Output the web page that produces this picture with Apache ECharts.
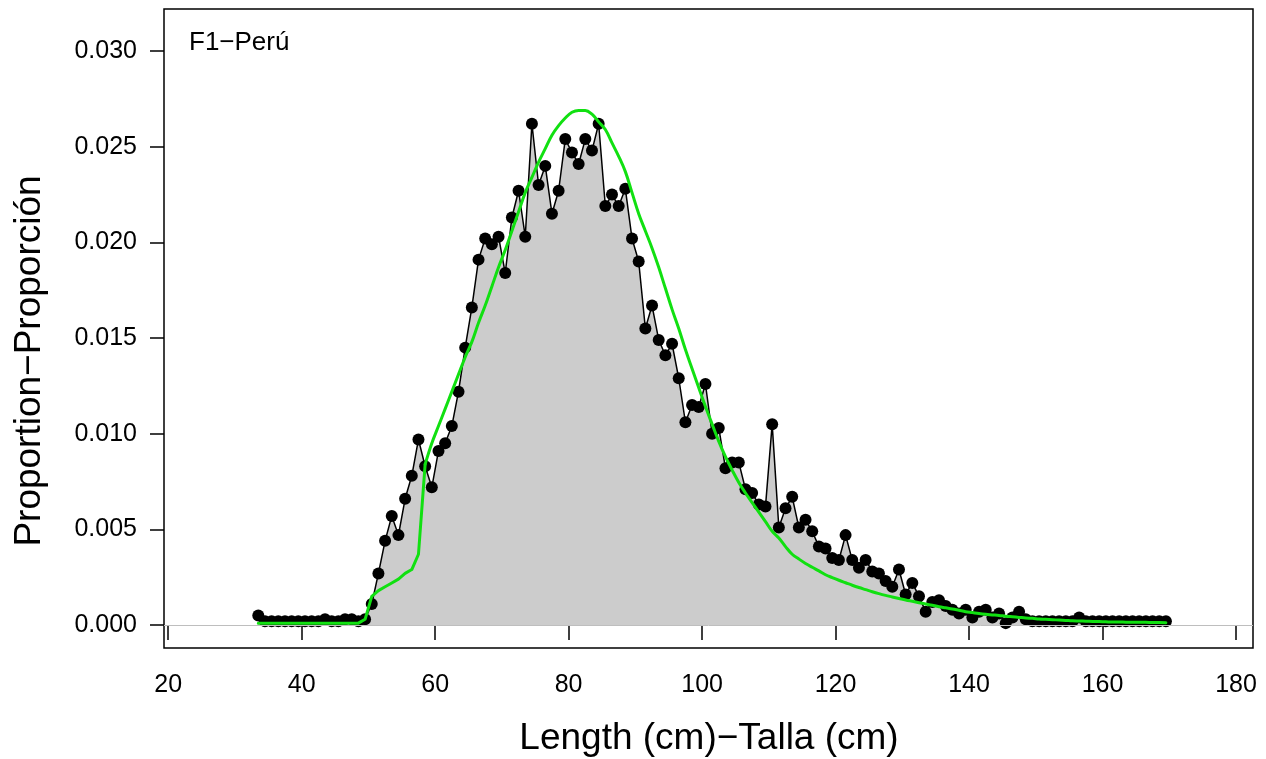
<!DOCTYPE html>
<html>
<head>
<meta charset="utf-8">
<script src="https://cdn.jsdelivr.net/npm/echarts@6/dist/echarts.min.js"></script>
<style>
html, body { margin: 0; padding: 0; background: #fff; }
#main { width: 1266px; height: 759px; }
</style>
</head>
<body>
<div id="main"></div>
<script>
// length bins (cm, bin centres)
var lengths = [
    33.5, 34.5, 35.5, 36.5, 37.5, 38.5, 39.5,
    40.5, 41.5, 42.5, 43.5, 44.5, 45.5, 46.5, 47.5, 48.5, 49.5,
    50.5, 51.5, 52.5, 53.5, 54.5, 55.5, 56.5, 57.5, 58.5, 59.5,
    60.5, 61.5, 62.5, 63.5, 64.5, 65.5, 66.5, 67.5, 68.5, 69.5,
    70.5, 71.5, 72.5, 73.5, 74.5, 75.5, 76.5, 77.5, 78.5, 79.5,
    80.5, 81.5, 82.5, 83.5, 84.5, 85.5, 86.5, 87.5, 88.5, 89.5,
    90.5, 91.5, 92.5, 93.5, 94.5, 95.5, 96.5, 97.5, 98.5, 99.5,
    100.5, 101.5, 102.5, 103.5, 104.5, 105.5, 106.5, 107.5, 108.5, 109.5,
    110.5, 111.5, 112.5, 113.5, 114.5, 115.5, 116.5, 117.5, 118.5, 119.5,
    120.5, 121.5, 122.5, 123.5, 124.5, 125.5, 126.5, 127.5, 128.5, 129.5,
    130.5, 131.5, 132.5, 133.5, 134.5, 135.5, 136.5, 137.5, 138.5, 139.5,
    140.5, 141.5, 142.5, 143.5, 144.5, 145.5, 146.5, 147.5, 148.5, 149.5,
    150.5, 151.5, 152.5, 153.5, 154.5, 155.5, 156.5, 157.5, 158.5, 159.5,
    160.5, 161.5, 162.5, 163.5, 164.5, 165.5, 166.5, 167.5, 168.5, 169.5
]

// observed proportion per bin
var observed = [
    0.0005, 0.0002, 0.0002, 0.0002, 0.0002, 0.0002, 0.0002,
    0.0002, 0.0002, 0.0002, 0.0003, 0.0002, 0.0002, 0.0003, 0.0003, 0.0002, 0.0003,
    0.0011, 0.0027, 0.0044, 0.0057, 0.0047, 0.0066, 0.0078, 0.0097, 0.0083, 0.0072,
    0.0091, 0.0095, 0.0104, 0.0122, 0.0145, 0.0166, 0.0191, 0.0202, 0.0199, 0.0203,
    0.0184, 0.0213, 0.0227, 0.0203, 0.0262, 0.0230, 0.0240, 0.0215, 0.0227, 0.0254,
    0.0247, 0.0241, 0.0254, 0.0248, 0.0262, 0.0219, 0.0225, 0.0219, 0.0228, 0.0202,
    0.0190, 0.0155, 0.0167, 0.0149, 0.0141, 0.0147, 0.0129, 0.0106, 0.0115, 0.0114,
    0.0126, 0.0100, 0.0103, 0.0082, 0.0085, 0.0085, 0.0071, 0.0069, 0.0063, 0.0062,
    0.0105, 0.0051, 0.0061, 0.0067, 0.0051, 0.0055, 0.0049, 0.0041, 0.0040, 0.0035,
    0.0034, 0.0047, 0.0034, 0.0030, 0.0034, 0.0028, 0.0027, 0.0023, 0.0020, 0.0029,
    0.0016, 0.0022, 0.0015, 0.0007, 0.0012, 0.0013, 0.0010, 0.0008, 0.0006, 0.0008,
    0.0004, 0.0007, 0.0008, 0.0004, 0.0006, 0.0001, 0.0004, 0.0007, 0.0003, 0.0002,
    0.0002, 0.0002, 0.0002, 0.0002, 0.0002, 0.0002, 0.0004, 0.0002, 0.0002, 0.0002,
    0.0002, 0.0002, 0.0002, 0.0002, 0.0002, 0.0002, 0.0002, 0.0002, 0.0002, 0.0002
]

// fitted (model) proportion per bin
var fitted = [
    0.0001, 0.0001, 0.0001, 0.0001, 0.0001, 0.0001, 0.0001,
    0.0001, 0.0001, 0.0001, 0.0001, 0.0001, 0.0001, 0.0001, 0.0001, 0.0001, 0.0003,
    0.0015, 0.0018, 0.0020, 0.0022, 0.0024, 0.0027, 0.0029, 0.0037, 0.0084, 0.0095,
    0.0104, 0.0113, 0.0122, 0.0131, 0.0140, 0.0148, 0.0158, 0.0167, 0.0177, 0.0187,
    0.0196, 0.0206, 0.0216, 0.0226, 0.0234, 0.0242, 0.0249, 0.0256, 0.0261, 0.0265,
    0.0268, 0.0269, 0.0269, 0.0267, 0.0263, 0.0259, 0.0252, 0.0245, 0.0237, 0.0226,
    0.0215, 0.0206, 0.0197, 0.0187, 0.0176, 0.0165, 0.0155, 0.0144, 0.0134, 0.0124,
    0.01142, 0.0105, 0.0096, 0.0088, 0.0081, 0.00745, 0.0069, 0.0064, 0.0059, 0.0054,
    0.0049, 0.00455, 0.0041, 0.0037, 0.00345, 0.00322, 0.00302, 0.00283, 0.00263, 0.00248,
    0.00234, 0.00221, 0.00208, 0.00196, 0.00185, 0.00174, 0.00164, 0.00155, 0.00147, 0.00139,
    0.00131, 0.00124, 0.00117, 0.0011, 0.00103, 0.00096, 0.0009, 0.00084, 0.00077, 0.0007,
    0.00065, 0.0006, 0.00056, 0.00053, 0.0005, 0.00046, 0.00043, 0.0004, 0.00037, 0.00035,
    0.00032, 0.0003, 0.00028, 0.00026, 0.00024, 0.00022, 0.00021, 0.0002, 0.00019, 0.00018,
    0.00017, 0.00016, 0.00016, 0.00015, 0.00015, 0.00014, 0.00014, 0.00013, 0.00013, 0.00012
]

var xTicks = [20, 40, 60, 80, 100, 120, 140, 160, 180]
var yTicks = [0, 0.005, 0.010, 0.015, 0.020, 0.025, 0.030]

var panelLabel = "F1\u2212Perú"
var xTitle = "Length (cm)\u2212Talla (cm)"
var yTitle = "Proportion\u2212Proporción"

var font = "'Liberation Sans', Arial, Helvetica, sans-serif"

// the fit has a sharp step near 57 cm, the rest of it is a smooth curve
var kink = 25

var obsData = lengths.map(function (x, i) { return [x, observed[i]] })
var fitData = lengths.map(function (x, i) { return [x, fitted[i]] })
var fitLeft = fitData.slice(0, kink + 1)
var fitRight = fitData.slice(kink)

var chart = echarts.init(document.getElementById("main"))

var option = {
    animation: false,
    backgroundColor: "#fff",
    grid: {
        left: 164,
        right: 13,
        top: 9,
        bottom: 111,
        show: true,
        borderColor: "#000",
        borderWidth: 1.5,
        backgroundColor: "transparent"
    },
    xAxis: {
        type: "value",
        min: 19.37,
        max: 182.55,
        axisLine: { show: false },
        splitLine: { show: false },
        axisTick: {
            show: true,
            customValues: xTicks,
            length: 15,
            lineStyle: { color: "#000", width: 1.5 }
        },
        axisLabel: {
            customValues: xTicks,
            margin: 25,
            fontSize: 25,
            color: "#000",
            fontFamily: font
        }
    },
    yAxis: {
        type: "value",
        min: -0.0012,
        max: 0.0322,
        axisLine: { show: false },
        splitLine: { show: false },
        axisTick: {
            show: true,
            customValues: yTicks,
            length: 14,
            lineStyle: { color: "#000", width: 1.5 }
        },
        axisLabel: {
            customValues: yTicks,
            margin: 27,
            fontSize: 25,
            color: "#000",
            fontFamily: font,
            formatter: function (v) { return v.toFixed(3) }
        }
    },
    series: [
        {
            name: "observed",
            type: "line",
            data: obsData,
            z: 2,
            symbol: "circle",
            symbolSize: 12,
            showAllSymbol: true,
            itemStyle: { color: "#000" },
            lineStyle: { color: "#000", width: 1.5 },
            areaStyle: { color: "#cccccc", opacity: 1, origin: "auto" },
            markLine: {
                silent: true,
                symbol: "none",
                label: { show: false },
                lineStyle: { color: "#bebebe", width: 1, type: "solid" },
                data: [{ yAxis: 0 }]
            }
        },
        {
            name: "fitted-left",
            type: "line",
            data: fitLeft,
            z: 3,
            showSymbol: false,
            lineStyle: { color: "#11e011", width: 3, cap: "round", join: "round" }
        },
        {
            name: "fitted-right",
            type: "line",
            data: fitRight,
            z: 3,
            smooth: 0.4,
            showSymbol: false,
            lineStyle: { color: "#11e011", width: 3, cap: "round", join: "round" }
        }
    ],
    graphic: [
        {
            type: "text",
            left: 189,
            top: 30,
            style: { text: panelLabel, fontSize: 26, fill: "#000", fontFamily: font }
        },
        {
            type: "text",
            x: 709,
            y: 739,
            style: {
                text: xTitle, fontSize: 37, fill: "#000", fontFamily: font,
                textAlign: "center", textVerticalAlign: "middle"
            }
        },
        {
            type: "text",
            x: 30,
            y: 361,
            rotation: Math.PI / 2,
            style: {
                text: yTitle, fontSize: 37, fill: "#000", fontFamily: font,
                textAlign: "center", textVerticalAlign: "middle"
            }
        }
    ]
}

chart.setOption(option)
</script>
</body>
</html>
